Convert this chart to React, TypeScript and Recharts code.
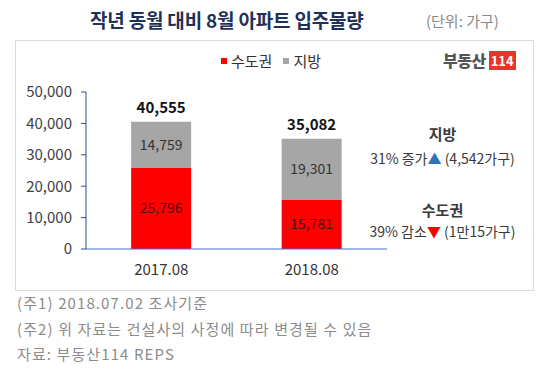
import React from "react"
import { BarChart, Bar, XAxis, YAxis, LabelList } from "recharts"

const categories = ["2017.08", "2018.08"]
const metroValues = [25796, 15781]
const regionValues = [14759, 19301]
const totalValues = [40555, 35082]
const yTicks = [0, 10000, 20000, 30000, 40000, 50000]

const data = categories.map((month, i) => ({
  month,
  metro: metroValues[i],
  region: regionValues[i],
  total: totalValues[i],
}))

const FONT = "'Noto Sans CJK KR', 'Noto Sans', sans-serif"
const fmt = (v: number) => v.toLocaleString("en-US")

export default function App() {
  return (
    <div style={{ position: "absolute", left: 0, top: 0, width: 540, height: 369, fontFamily: FONT, background: "#fff" }}>
      {/* title */}
      <div style={{ position: "absolute", left: 90, top: 6, fontSize: 19, fontWeight: 700, color: "#1f3158", letterSpacing: -0.2 }}>
        작년 동월 대비 8월 아파트 입주물량
      </div>
      <div style={{ position: "absolute", left: 426, top: 10, fontSize: 15, color: "#8a8a8a" }}>(단위: 가구)</div>

      {/* frame */}
      <div style={{ position: "absolute", left: 15, top: 40, width: 517, height: 249, border: "1px solid #dcdcdc" }} />

      {/* legend */}
      <div style={{ position: "absolute", left: 221, top: 50, fontSize: 15, color: "#333", display: "flex", alignItems: "center" }}>
        <span style={{ width: 6, height: 6, background: "#ff0000", display: "inline-block", marginRight: 4 }} />
        <span>수도권</span>
        <span style={{ width: 6, height: 6, background: "#a6a6a6", display: "inline-block", marginLeft: 11, marginRight: 4 }} />
        <span>지방</span>
      </div>

      {/* logo */}
      <div style={{ position: "absolute", left: 443, top: 48, display: "flex", alignItems: "center" }}>
        <span style={{ fontSize: 16, fontWeight: 900, color: "#555", letterSpacing: -0.5 }}>부동산</span>
        <span style={{ marginLeft: 3, background: "#e8352b", color: "#fff", fontSize: 13, fontWeight: 700, padding: "1px 2px", lineHeight: "17px" }}>114</span>
      </div>

      <div style={{ position: "absolute", left: 0, top: 0 }}>
        <BarChart
          width={540}
          height={369}
          data={data}
          margin={{ top: 92, right: 153, left: 16, bottom: 90 }}
          barCategoryGap="30%"
        >
          <XAxis
            dataKey="month"
            height={30}
            axisLine={{ stroke: "#4472c4" }}
            tickLine={false}
            tickMargin={9}
            tick={{ fill: "#333", fontSize: 15, fontFamily: FONT }}
          />
          <YAxis
            width={70}
            domain={[0, 50000]}
            ticks={yTicks}
            interval={0}
            tickFormatter={fmt}
            axisLine={{ stroke: "#2f4b8f" }}
            tickLine={{ stroke: "#2f4b8f" }}
            tickSize={5}
            tickMargin={9}
            tick={{ fill: "#404040", fontSize: 15, fontFamily: FONT }}
          />
          <Bar dataKey="metro" stackId="a" fill="#ff0000" isAnimationActive={false}>
            <LabelList dataKey="metro" position="center" formatter={(v: any) => fmt(Number(v))} fill="#4a0a0a" fontSize={14} fontFamily={FONT} />
          </Bar>
          <Bar dataKey="region" stackId="a" fill="#a6a6a6" isAnimationActive={false}>
            <LabelList dataKey="region" position="center" formatter={(v: any) => fmt(Number(v))} fill="#333" fontSize={14} fontFamily={FONT} />
            <LabelList dataKey="total" position="top" offset={9} formatter={(v: any) => fmt(Number(v))} fill="#111" fontSize={15} fontWeight={700} fontFamily={FONT} />
          </Bar>
        </BarChart>
      </div>

      {/* annotations */}
      <div style={{ position: "absolute", left: 360, top: 123, width: 165, textAlign: "center", color: "#3a3a3a" }}>
        <div style={{ fontWeight: 700, fontSize: 15 }}>지방</div>
        <div style={{ marginTop: 4, fontSize: 14 }}>
          31% 증가<span style={{ color: "#2e75b6" }}>▲</span> (4,542가구)
        </div>
      </div>
      <div style={{ position: "absolute", left: 360, top: 199, width: 165, textAlign: "center", color: "#3a3a3a" }}>
        <div style={{ fontWeight: 700, fontSize: 15 }}>수도권</div>
        <div style={{ marginTop: 1, fontSize: 14 }}>
          39% 감소<span style={{ color: "#ff0000" }}>▼</span> (1만15가구)
        </div>
      </div>

      {/* footnotes */}
      <div style={{ position: "absolute", left: 17, top: 290, fontSize: 15, color: "#8c8c8c", lineHeight: "25.5px", letterSpacing: 1.1 }}>
        <div>(주1) 2018.07.02 조사기준</div>
        <div>(주2) 위 자료는 건설사의 사정에 따라 변경될 수 있음</div>
        <div>자료: 부동산114 REPS</div>
      </div>
    </div>
  )
}
